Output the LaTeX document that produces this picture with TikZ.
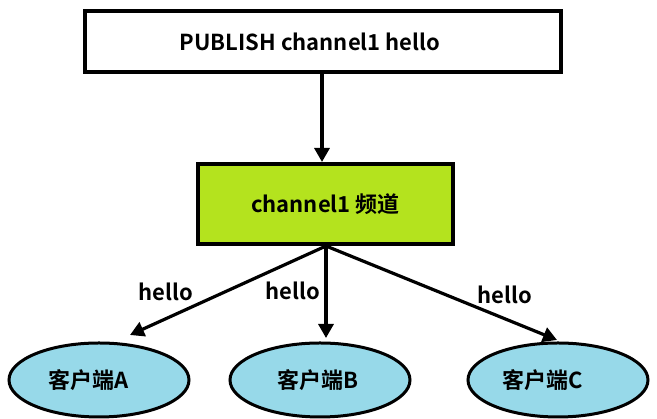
\documentclass[tikz,border=0pt]{standalone}
\usepackage{fontspec}
\setmainfont{Noto Sans CJK SC}[BoldFont={Noto Sans CJK SC Bold}]
\usetikzlibrary{arrows.meta,shapes.geometric}
\definecolor{chgreen}{HTML}{B4E31E}
\definecolor{clblue}{HTML}{97D9E9}
\tikzset{
  every node/.style={font=\bfseries\fontsize{22}{26}\selectfont},
  cmdbox/.style={draw, line width=4pt, fill=white, minimum width=476pt, minimum height=61pt, inner sep=0pt},
  chanbox/.style={draw, line width=4pt, fill=chgreen, minimum width=255pt, minimum height=80pt, inner sep=0pt},
  client/.style={draw, ellipse, line width=3pt, fill=clblue, minimum width=180pt, minimum height=74pt, inner sep=0pt},
  arr/.style={line width=3.2pt, -{Triangle[length=14pt,width=15pt]}},
  lbl/.style={inner sep=0pt}
}
\begin{document}
\begin{tikzpicture}[x=1pt,y=1pt]
\useasboundingbox (0,0) rectangle (657,419);
\node[cmdbox] (cmd) at (323,377.5) {};
\node (cmdtext) at (310,377.5) {PUBLISH channel1 hello};
\node[chanbox] (chan) at (325.5,215) {channel1 频道};
\node[client] (A) at (99,39) {};
\node[client] (B) at (320,39) {};
\node[client] (C) at (558,39) {};
\node (tA) at (89,39) {客户端A};
\node (tB) at (318,39) {客户端B};
\node (tC) at (543,39) {客户端C};
\coordinate (top) at (322,347);
\coordinate (src) at (326,173);
\coordinate (ta) at (130,84);
\coordinate (tb) at (326,81);
\coordinate (tc) at (557,79);
\draw[arr] (top) -- (chan.north -| top);
\draw[arr] (src) -- (ta);
\draw[arr] (src) -- (tb);
\draw[arr] (src) -- (tc);
\node[lbl] (la) at (166,127) {hello};
\node[lbl] (lb) at (293,128) {hello};
\node[lbl] (lc) at (505,124) {hello};
\end{tikzpicture}
\end{document}
